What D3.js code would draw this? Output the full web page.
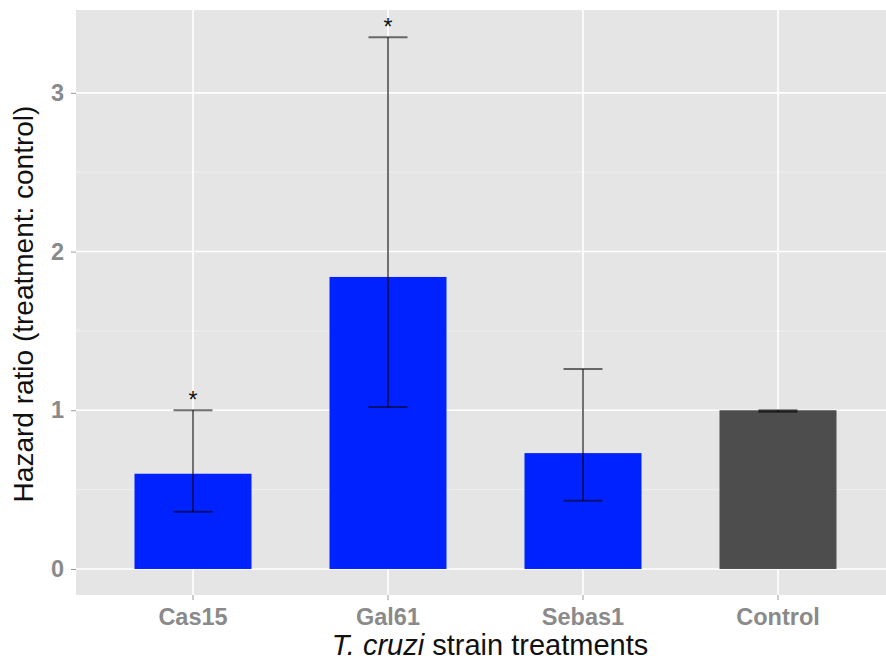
<!DOCTYPE html>
<html><head><meta charset="utf-8">
<script src="https://cdn.jsdelivr.net/npm/d3@7"></script>
<style>body{margin:0;background:#fff}svg{display:block}</style>
</head><body>
<svg id="c" width="886" height="663"></svg>
<script>
const categories = ["Cas15", "Gal61", "Sebas1", "Control"];
const hazard = [0.60, 1.84, 0.73, 1.0];
const lower = [0.36, 1.02, 0.43, 0.99];
const upper = [1.0, 3.35, 1.26, 1.0];
const significant = [true, true, false, false];
const barColors = ["#0022ff", "#0022ff", "#0022ff", "#4d4d4d"];
const yTicks = [0, 1, 2, 3];

const W = 886, H = 663;
const panel = {left: 76, top: 10, bottom: 595};
const svg = d3.select("#c");
const font = "Liberation Sans, Arial, Helvetica, sans-serif";

const step = 195;
const x = d3.scaleBand().domain(categories)
  .range([panel.left + 0.6*step - step/2, panel.left + 0.6*step - step/2 + step*categories.length]);
const y = d3.scaleLinear().domain([-0.164, 3.522]).range([panel.bottom, panel.top]);
const cx = c => x(c) + x.bandwidth()/2;

svg.append("rect").attr("x", panel.left).attr("y", panel.top)
  .attr("width", W - panel.left).attr("height", panel.bottom - panel.top).attr("fill", "#e5e5e5");

const g = svg.append("g");
// minor grid
g.selectAll(".ymin").data([0.5, 1.5, 2.5]).join("line")
  .attr("x1", panel.left).attr("x2", W).attr("y1", d => y(d)).attr("y2", d => y(d))
  .attr("stroke", "#f2f2f2").attr("stroke-width", 0.8);
// major grid
g.selectAll(".ymaj").data(yTicks).join("line")
  .attr("x1", panel.left).attr("x2", W).attr("y1", d => y(d)).attr("y2", d => y(d))
  .attr("stroke", "#ffffff").attr("stroke-width", 1.6);
g.selectAll(".xmaj").data(categories).join("line")
  .attr("x1", d => cx(d)).attr("x2", d => cx(d)).attr("y1", panel.top).attr("y2", panel.bottom)
  .attr("stroke", "#ffffff").attr("stroke-width", 1.6);

// bars
const bw = 0.6 * step;
g.selectAll(".bar").data(categories).join("rect")
  .attr("x", d => cx(d) - bw/2).attr("width", bw)
  .attr("y", (d, i) => y(hazard[i])).attr("height", (d, i) => y(0) - y(hazard[i]))
  .attr("fill", (d, i) => barColors[i]);

// error bars
const ew = 0.2 * step;
const eb = g.append("g").attr("stroke", "#000").attr("stroke-opacity", 0.55).attr("stroke-width", 2);
categories.forEach((c, i) => {
  eb.append("line").attr("x1", cx(c)).attr("x2", cx(c)).attr("y1", y(lower[i])).attr("y2", y(upper[i]));
  eb.append("line").attr("x1", cx(c) - ew/2).attr("x2", cx(c) + ew/2).attr("y1", y(lower[i])).attr("y2", y(lower[i]));
  eb.append("line").attr("x1", cx(c) - ew/2).attr("x2", cx(c) + ew/2).attr("y1", y(upper[i])).attr("y2", y(upper[i]));
});

// stars
g.selectAll(".star").data(categories.filter((c, i) => significant[i])).join("text")
  .attr("x", d => cx(d)).attr("y", d => y(upper[categories.indexOf(d)]) - 2)
  .attr("text-anchor", "middle").attr("font-family", font).attr("font-size", 23)
  .attr("fill", "#111").text("*");

// y axis
const yAxis = svg.append("g").attr("transform", `translate(${panel.left},0)`)
  .call(d3.axisLeft(y).tickValues(yTicks).tickSize(5).tickPadding(7).tickFormat(d3.format("d")));
yAxis.select(".domain").remove();
yAxis.selectAll("line").attr("stroke", "#999").attr("stroke-width", 1);
yAxis.selectAll("text").attr("font-family", font).attr("font-size", 23.5).attr("font-weight", "bold").attr("fill", "#8a8a8a");

// x axis
const xAxis = svg.append("g").attr("transform", `translate(0,${panel.bottom})`)
  .call(d3.axisBottom(x).tickSize(5).tickPadding(8));
xAxis.select(".domain").remove();
xAxis.selectAll("line").attr("stroke", "#999").attr("stroke-width", 1);
xAxis.selectAll("text").attr("font-family", font).attr("font-size", 23.5).attr("font-weight", "bold").attr("fill", "#8a8a8a");

// titles
const xt = svg.append("text").attr("x", 490).attr("y", 655)
  .attr("text-anchor", "middle").attr("font-family", font).attr("font-size", 29).attr("fill", "#111");
xt.append("tspan").attr("font-style", "italic").text("T. cruzi");
xt.append("tspan").text(" strain treatments");

svg.append("text").attr("transform", `translate(33,304) rotate(-90)`)
  .attr("text-anchor", "middle").attr("font-family", font).attr("font-size", 28).attr("fill", "#111")
  .text("Hazard ratio (treatment: control)");
</script>
</body></html>
